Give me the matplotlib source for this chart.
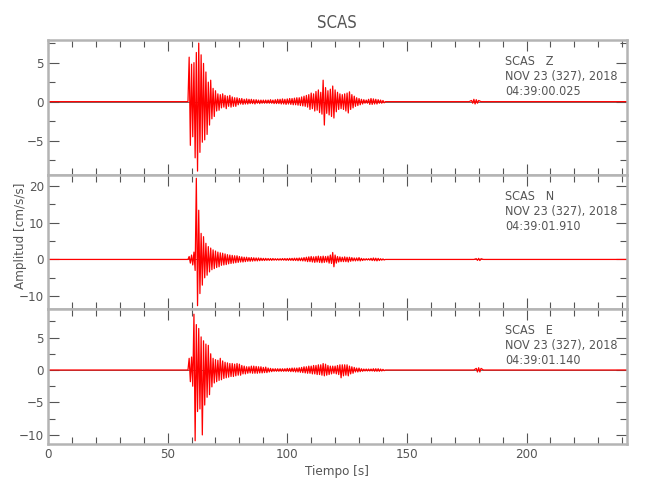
import numpy as np
import matplotlib
matplotlib.use('Agg')
import matplotlib.pyplot as plt
from matplotlib.ticker import MultipleLocator

plt.rcParams['font.family'] = ['DejaVu Sans']
plt.rcParams['font.stretch'] = 'condensed'

# picos, una muestra cada 0.5 s desde t=59 s (alternando + / -)
t_inicio = 59.0
dt = 0.5

z_act = [5.7, -5.6, 4.8, -4.5, 5.0, -7.2, 6.3, -8.9, 7.5, -6.5,
         6.0, -5.2, 4.9, -4.9, 3.8, -4.2, 2.5, -3.0, 2.75, -2.2,
         1.7, -1.9, 1.4, -1.2, 1.0, -1.1, 0.9, -0.8, 1.0, -0.7,
         0.8, -0.9, 0.7, -0.6, 0.8, -0.7, 0.6, -0.6, 0.5, -0.6,
         0.5, -0.4, 0.4, -0.3, 0.4, -0.35, 0.3, -0.3, 0.35, -0.3,
         0.3, -0.25, 0.3, -0.25, 0.25, -0.3, 0.25, -0.2, 0.2, -0.25,
         0.2, -0.2, 0.2, -0.2, 0.2, -0.2, 0.2, -0.2, 0.25, -0.2,
         0.2, -0.25, 0.25, -0.25, 0.3, -0.25, 0.3, -0.3, 0.35, -0.3,
         0.3, -0.35, 0.35, -0.3, 0.4, -0.35, 0.4, -0.4, 0.45, -0.4,
         0.5, -0.45, 0.5, -0.5, 0.6, -0.55, 0.7, -0.6, 0.8, -0.7,
         0.9, -1.0, 1.1, -0.9, 1.0, -1.2, 1.3, -1.1, 1.5, -1.4,
         1.2, -1.6, 2.75, -3.0, 1.8, -1.5, 1.4, -1.7, 1.6, -1.9,
         2.0, -2.1, 1.5, -1.3, 1.2, -1.0, 1.0, -0.9, 0.9, -1.0,
         1.0, -1.2, 1.1, -1.45, 1.26, -1.0, 0.9, -0.8, 0.7, -0.6,
         0.5, -0.5, 0.4, -0.4, 0.3, -0.3, 0.25, -0.2, 0.2, -0.2,
         0.3, -0.35, 0.4, -0.35, 0.35, -0.3, 0.3, -0.3, 0.25, -0.2,
         0.2, -0.2, 0.15, -0.15]

n_act = [0.8, -1.0, 1.2, -1.5, 2.0, -3.0, 22.1, -12.6, 13.4, -9.3,
         7.1, -7.0, 6.2, -5.0, 4.4, -4.3, 3.5, -3.4, 3.1, -2.8,
         2.6, -2.5, 2.3, -2.2, 2.0, -2.0, 1.8, -1.6, 1.7, -1.5,
         1.5, -1.4, 1.3, -1.2, 1.2, -1.1, 1.1, -1.0, 1.0, -0.9,
         1.0, -0.8, 0.8, -0.7, 0.7, -0.7, 0.6, -0.6, 0.6, -0.5,
         0.5, -0.5, 0.5, -0.45, 0.45, -0.4, 0.4, -0.4, 0.4, -0.35,
         0.35, -0.3, 0.3, -0.3, 0.3, -0.25, 0.25, -0.25, 0.25, -0.25,
         0.25, -0.2, 0.2, -0.2, 0.2, -0.2, 0.2, -0.2, 0.25, -0.2,
         0.25, -0.25, 0.25, -0.25, 0.3, -0.25, 0.3, -0.3, 0.35, -0.3,
         0.35, -0.35, 0.4, -0.35, 0.4, -0.4, 0.5, -0.45, 0.6, -0.6,
         0.7, -0.6, 0.8, -0.7, 0.7, -0.8, 0.8, -0.7, 0.9, -0.8,
         0.8, -0.9, 0.9, -0.8, 0.8, -0.7, 0.9, -1.0, 1.2, -1.1,
         1.9, -2.0, 1.2, -1.0, 0.8, -0.7, 0.7, -0.6, 0.6, -0.6,
         0.7, -0.6, 0.6, -0.7, 0.6, -0.5, 0.5, -0.4, 0.4, -0.4,
         0.4, -0.35, 0.5, -0.4, 0.3, -0.3, 0.2, -0.2, 0.2, -0.15,
         0.2, -0.2, 0.3, -0.3, 0.4, -0.35, 0.35, -0.4, 0.3, -0.3,
         0.2, -0.2, 0.15, -0.15]

e_act = [1.8, -1.8, 2.0, -2.5, 8.6, -10.9, 7.0, -6.4, 6.4, -6.0,
         5.1, -10.0, 4.5, -5.4, 4.0, -4.2, 3.8, -3.8, 2.5, -2.6,
         1.8, -2.0, 1.6, -1.8, 1.5, -1.6, 1.8, -1.5, 1.4, -1.3,
         1.2, -1.2, 1.1, -1.1, 1.0, -1.0, 1.0, -1.0, 0.9, -0.9,
         1.0, -0.8, 0.9, -0.8, 0.7, -0.6, 0.6, -0.6, 0.5, -0.5,
         0.5, -0.45, 0.6, -0.5, 0.6, -0.5, 0.55, -0.5, 0.5, -0.45,
         0.5, -0.45, 0.4, -0.4, 0.45, -0.4, 0.3, -0.3, 0.25, -0.25,
         0.2, -0.2, 0.2, -0.2, 0.2, -0.2, 0.2, -0.2, 0.2, -0.2,
         0.2, -0.2, 0.25, -0.2, 0.25, -0.25, 0.3, -0.25, 0.3, -0.3,
         0.3, -0.3, 0.35, -0.35, 0.4, -0.4, 0.5, -0.45, 0.5, -0.5,
         0.6, -0.5, 0.6, -0.6, 0.7, -0.6, 0.7, -0.7, 0.8, -0.7,
         0.8, -0.8, 1.0, -0.9, 0.9, -0.8, 0.7, -0.7, 0.6, -0.6,
         0.6, -0.5, 0.6, -0.6, 0.7, -0.7, 0.8, -1.2, 0.8, -0.9,
         0.8, -0.8, 0.8, -0.9, 0.6, -0.6, 0.5, -0.5, 0.4, -0.3,
         0.3, -0.3, 0.3, -0.25, 0.2, -0.2, 0.15, -0.15, 0.15, -0.15,
         0.15, -0.15, 0.15, -0.15, 0.2, -0.2, 0.2, -0.2, 0.2, -0.2,
         0.15, -0.15, 0.1, -0.1]

# tramos tranquilos (antes y despues), con la pequena llegada cerca de 180 s
cabeza_t = [0, 58.5]
cabeza_v = [0, 0]
z_cola_t = [141, 176, 177, 177.5, 178, 178.5, 179, 179.5, 180, 181, 242]
z_cola_v = [0, 0, 0.15, -0.2, 0.3, -0.3, 0.25, -0.2, 0.15, 0, 0]
n_cola_t = [141, 178, 179, 179.5, 180, 180.5, 181, 182, 242]
n_cola_v = [0, 0, 0.2, -0.25, 0.3, -0.3, 0.2, 0, 0]
e_cola_t = [141, 178, 179, 179.5, 180, 180.5, 181, 182, 242]
e_cola_v = [0, 0, 0.25, -0.3, 0.35, -0.3, 0.25, 0, 0]

componentes = ['Z', 'N', 'E']
horas = ['04:39:00.025', '04:39:01.910', '04:39:01.140']
limites = [(-9.4, 7.9), (-13.5, 23.0), (-11.4, 9.4)]
mayores = [5, 10, 5]
menores = [2.5, 5, 2.5]


def traza(act, cola_t, cola_v):
    t_act = t_inicio + dt * np.arange(len(act))
    t = np.concatenate([cabeza_t, t_act, cola_t])
    v = np.concatenate([cabeza_v, act, cola_v])
    return t, v


trazas = [traza(z_act, z_cola_t, z_cola_v),
          traza(n_act, n_cola_t, n_cola_v),
          traza(e_act, e_cola_t, e_cola_v)]

fig = plt.figure(figsize=(6.5, 5), dpi=100)
izq, ancho = 48 / 650, 579 / 650
bordes = [40, 175, 309, 444]  # pixeles

gris = '#b4b4b4'
texto = '#555555'
for i in range(3):
    y0 = 1 - bordes[i + 1] / 500
    alto = (bordes[i + 1] - bordes[i]) / 500
    ax = fig.add_axes([izq, y0, ancho, alto])
    t, v = trazas[i]
    ax.axhline(0, color='#333333', lw=0.5, zorder=1)
    ax.plot(t, v, color='red', lw=0.9, zorder=2)
    ax.set_xlim(0, 242)
    ax.set_ylim(*limites[i])
    ax.xaxis.set_major_locator(MultipleLocator(50))
    ax.xaxis.set_minor_locator(MultipleLocator(10))
    ax.yaxis.set_major_locator(MultipleLocator(mayores[i]))
    ax.yaxis.set_minor_locator(MultipleLocator(menores[i]))
    ax.tick_params(which='both', direction='in', top=True, right=True,
                   color='#555555', labelcolor=texto, labelsize=9.5, pad=3)
    ax.tick_params(which='major', length=8, width=0.8)
    ax.tick_params(which='minor', length=5, width=0.8)
    if i < 2:
        ax.tick_params(labelbottom=False)
    for s in ax.spines.values():
        s.set_color(gris)
        s.set_linewidth(1.8)
    for k, txt in enumerate(['SCAS   ' + componentes[i],
                             'NOV 23 (327), 2018', horas[i]]):
        ax.text(0.79, 0.841 - k * 0.112, txt, transform=ax.transAxes,
                ha='left', va='center', fontsize=9, color=texto)

fig.text(337 / 650, 1 - 23 / 500, 'SCAS', ha='center', va='center',
         fontsize=12, color=texto)
fig.text(21 / 650, 1 - 236 / 500, 'Amplitud [cm/s/s]', rotation=90,
         ha='center', va='center', fontsize=9.5, color=texto)
fig.text(337 / 650, 1 - 471 / 500, 'Tiempo [s]', ha='center', va='center',
         fontsize=9.5, color=texto)

fig.savefig('out.png', dpi=100)
